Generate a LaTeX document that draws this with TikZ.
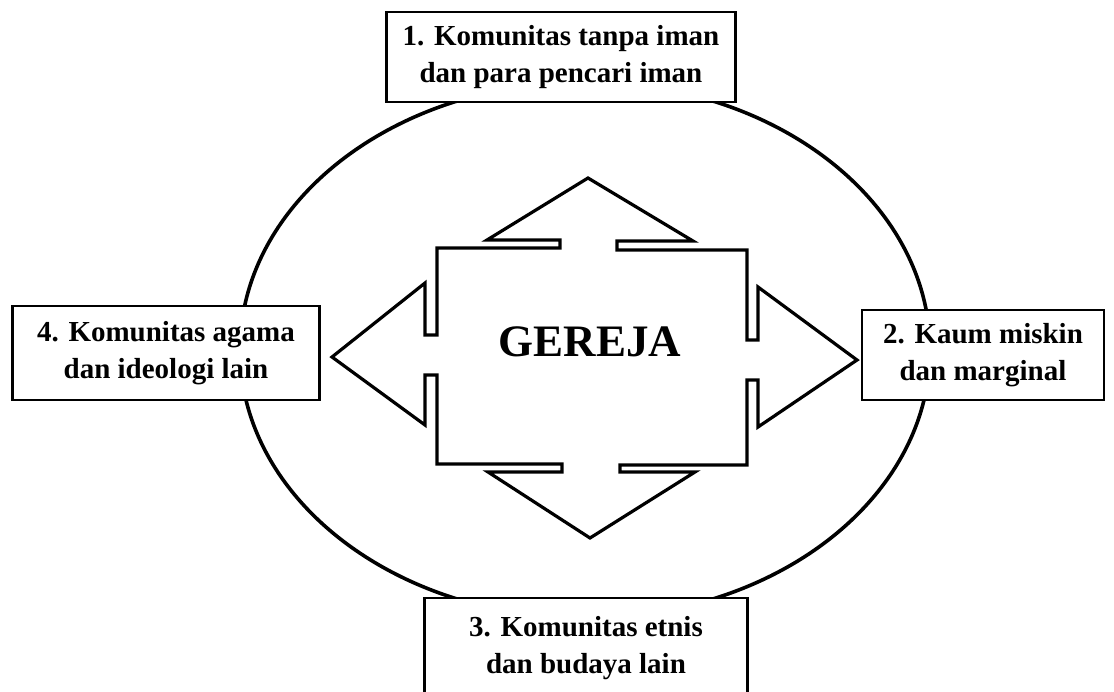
\documentclass[tikz,border=0pt]{standalone}
\usepackage{fontspec}
\setmainfont{Liberation Serif}
\usetikzlibrary{positioning}

\begin{document}
\begin{tikzpicture}[x=1pt,y=-1pt,node distance=300pt,on grid,
        kotak/.style={draw,line width=2.6pt,fill=white,align=center,inner sep=0pt,
            font=\bfseries\fontsize{29}{37}\selectfont}]

            \useasboundingbox (0,0) rectangle (1114,691);

            % lingkaran besar
            \draw[line width=3.6pt] (585,350) ellipse [x radius=345pt, y radius=268pt];

            % salib dengan empat panah
            \draw[line width=3.2pt,line join=miter]
                (437,248) -- (560,248) -- (560,240) -- (487,240) -- (588,178) -- (693,241)
                -- (617,241) -- (617,250) -- (747,250) -- (747,340) -- (758,340) -- (758,287)
                -- (857,360) -- (758,427) -- (758,380) -- (747,380) -- (747,465) -- (620,465)
                -- (620,472) -- (695,472) -- (590,538) -- (488,472) -- (562,472) -- (562,464)
                -- (437,464) -- (437,375) -- (425,375) -- (425,425) -- (332,357) -- (425,283)
                -- (425,335) -- (437,335) -- cycle;

            \node (gereja) at (590,342) {\bfseries\fontsize{45}{54}\selectfont GEREJA};

            \node (1) [above of=gereja,node distance=285pt,xshift=-29pt,kotak,minimum width=349pt,minimum height=90pt]
                {1. Komunitas tanpa iman\\dan para pencari iman};
            \node (2) [right of=gereja,node distance=393pt,yshift=-13pt,kotak,minimum width=242pt,minimum height=90pt]
                {2. Kaum miskin\\dan marginal};
            \node (3) [below of=gereja,node distance=306pt,xshift=-4pt,kotak,minimum width=323pt,minimum height=100pt]
                {3. Komunitas etnis\\dan budaya lain};
            \node (4) [left of=gereja,node distance=424pt,yshift=-11pt,kotak,minimum width=307pt,minimum height=94pt]
                {4. Komunitas agama\\dan ideologi lain};

\end{tikzpicture}
\end{document}
